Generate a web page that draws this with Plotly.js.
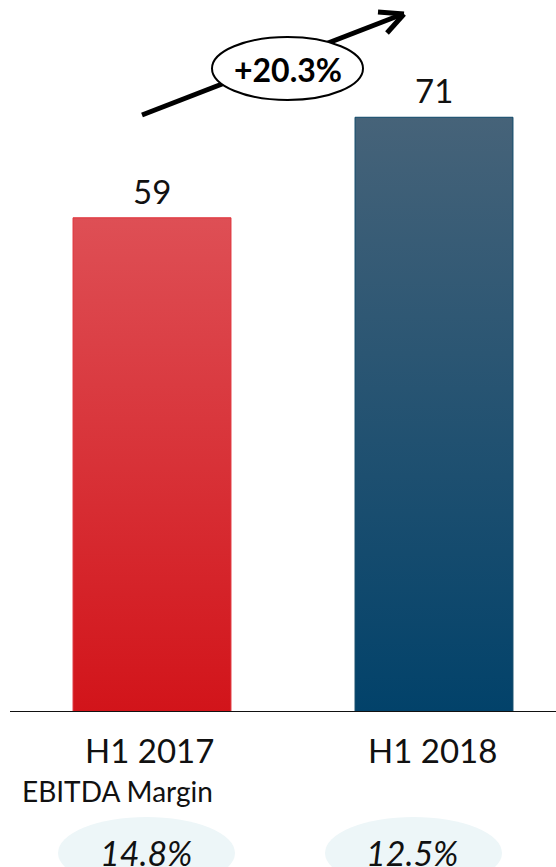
<!DOCTYPE html>
<html><head><meta charset="utf-8">
<script src="https://cdn.plot.ly/plotly-3.0.1.min.js"></script>
<style>html,body{margin:0;padding:0;background:#fff;}#chart{width:556px;height:867px;}</style>
</head><body><div id="chart"></div>
<script>
const categories = ['H1 2017', 'H1 2018'];
const ebitda = [59, 71];
const margins = ['14.8%', '12.5%'];
const growthLabel = '+20.3%';
const marginTitle = 'EBITDA Margin';
const barColors = ['#d8262c', '#134a6c'];
const gradients = [['#de4f55', '#d2141a'], ['#466379', '#02426a']];

const FONT = "Lato, 'Open Sans', sans-serif";
const px = x => x / 556;
const py = y => (712 - y) / 712;

const trace = {
  type: 'bar', x: categories, y: ebitda, width: 0.56,
  marker: {color: barColors, line: {color: ['#e0323a', '#0e4868'], width: 1}},
  hoverinfo: 'skip'
};

const annotations = [];
categories.forEach((c, i) => {
  annotations.push({x: c, y: ebitda[i], xref: 'x', yref: 'y', text: String(ebitda[i]), showarrow: false,
    yanchor: 'middle', yshift: 27, font: {family: FONT, size: 33, color: '#111'}});
});
const catX = [149, 432];
categories.forEach((c, i) => {
  annotations.push({x: px(catX[i]), y: py(750), xref: 'paper', yref: 'paper', text: c, showarrow: false,
    xanchor: 'center', yanchor: 'middle', font: {family: FONT, size: 33, color: '#111'}});
});
annotations.push({x: px(117), y: py(791), xref: 'paper', yref: 'paper', text: marginTitle, showarrow: false,
  xanchor: 'center', yanchor: 'middle', font: {family: FONT, size: 28, color: '#111'}});
const mX = [146, 412];
margins.forEach((m, i) => {
  annotations.push({x: px(mX[i]), y: py(852), xref: 'paper', yref: 'paper', text: '<i>' + m + '</i>', showarrow: false,
    xanchor: 'center', yanchor: 'middle', font: {family: FONT, size: 34, color: '#111'}});
});
annotations.push({x: px(288), y: py(70), xref: 'paper', yref: 'paper', text: '<b>' + growthLabel + '</b>', showarrow: false,
  xanchor: 'center', yanchor: 'middle', font: {family: FONT, size: 32, color: '#000'}});

const shapes = [
  {type: 'line', xref: 'paper', yref: 'y', x0: px(10), x1: 1, y0: 0, y1: 0, line: {color: '#111', width: 2}},
  {type: 'line', xref: 'paper', yref: 'paper', x0: px(142), y0: py(115), x1: px(403), y1: py(14), line: {color: '#000', width: 5}},
  {type: 'line', xref: 'paper', yref: 'paper', x0: px(404), y0: py(14), x1: px(378), y1: py(12), line: {color: '#000', width: 5}},
  {type: 'line', xref: 'paper', yref: 'paper', x0: px(404), y0: py(14), x1: px(387), y1: py(33), line: {color: '#000', width: 5}},
  {type: 'circle', xref: 'paper', yref: 'paper', x0: px(212), x1: px(363), y0: py(100), y1: py(37), fillcolor: '#fff', line: {color: '#000', width: 2}},
  {type: 'circle', xref: 'paper', yref: 'paper', x0: px(58), x1: px(235), y0: py(889), y1: py(817), fillcolor: '#edf6f8', line: {width: 0}},
  {type: 'circle', xref: 'paper', yref: 'paper', x0: px(325), x1: px(502), y0: py(889), y1: py(817), fillcolor: '#edf6f8', line: {width: 0}}
];

const layout = {
  width: 556, height: 867,
  margin: {l: 0, r: 0, t: 0, b: 155, pad: 0},
  paper_bgcolor: '#fff', plot_bgcolor: '#fff',
  showlegend: false,
  xaxis: {type: 'category', range: [-152/282, 404/282], showticklabels: false, showgrid: false, zeroline: false, showline: false, ticks: ''},
  yaxis: {range: [0, 85], showticklabels: false, showgrid: false, zeroline: false, showline: false, ticks: ''},
  annotations: annotations,
  shapes: shapes
};

Plotly.newPlot('chart', [trace], layout, {displayModeBar: false, staticPlot: true}).then(gd => {
  const NS = 'http://www.w3.org/2000/svg';
  const svg = gd.querySelector('svg.main-svg');
  let defs = svg.querySelector('defs');
  if (!defs) { defs = document.createElementNS(NS, 'defs'); svg.insertBefore(defs, svg.firstChild); }
  gradients.forEach((g, i) => {
    const lg = document.createElementNS(NS, 'linearGradient');
    lg.setAttribute('id', 'barGrad' + i);
    lg.setAttribute('x1', '0'); lg.setAttribute('y1', '0'); lg.setAttribute('x2', '0'); lg.setAttribute('y2', '1');
    [[0, g[0]], [1, g[1]]].forEach(([o, c]) => {
      const s = document.createElementNS(NS, 'stop');
      s.setAttribute('offset', o); s.setAttribute('stop-color', c);
      lg.appendChild(s);
    });
    defs.appendChild(lg);
  });
  gd.querySelectorAll('.barlayer .point path').forEach((p, i) => { p.style.fill = 'url(#barGrad' + i + ')'; });
});
</script></body></html>
